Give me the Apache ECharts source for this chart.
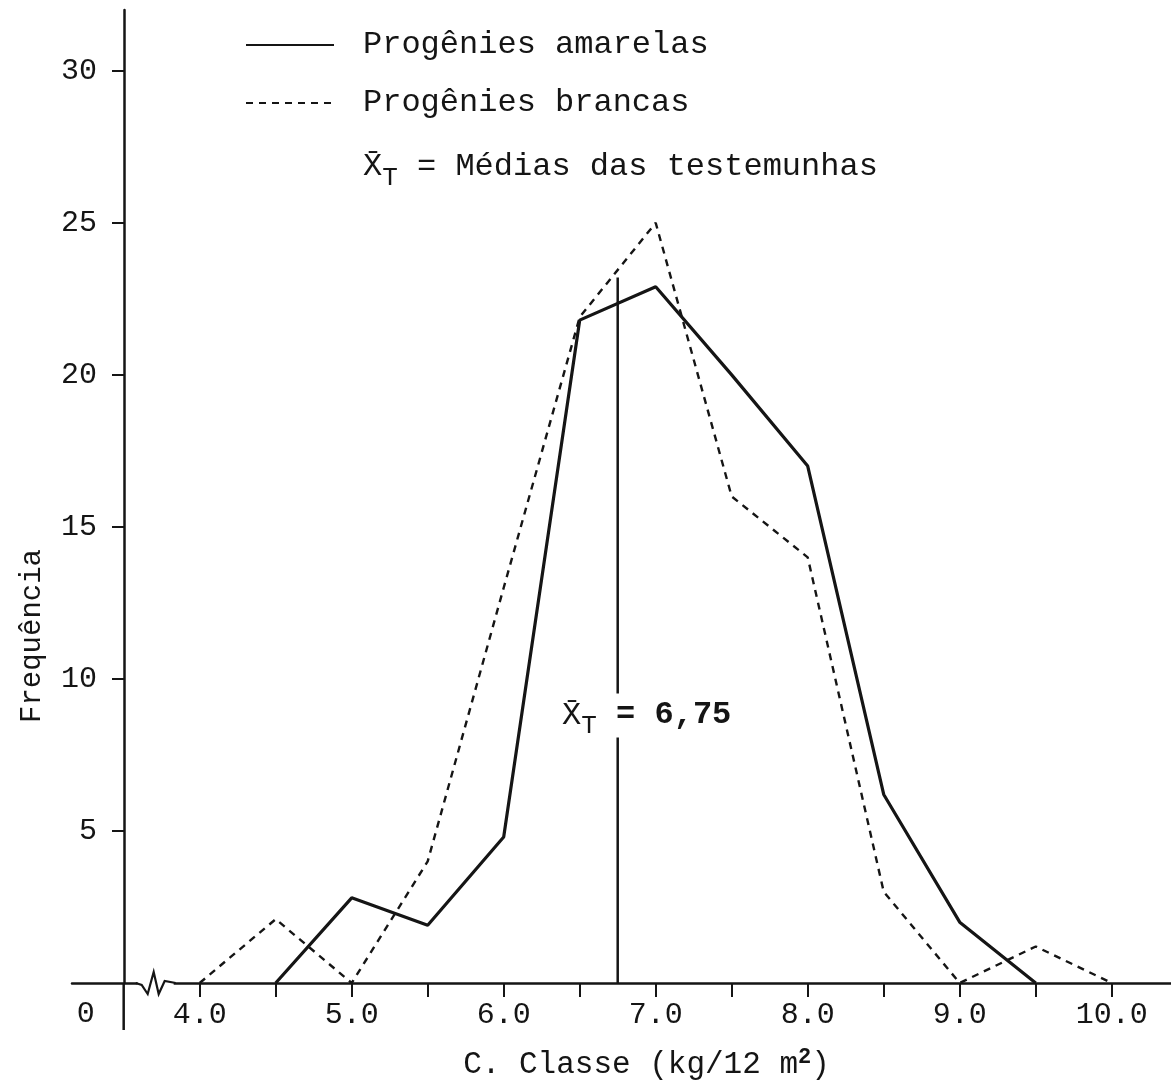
<!DOCTYPE html>
<html>
<head>
<meta charset="utf-8">
<title>Progênies - distribuição de frequência</title>
<script src="https://cdn.jsdelivr.net/npm/echarts@6/dist/echarts.min.js"></script>
<style>
    html, body { margin: 0; padding: 0; background: #fff; }
    #main { width: 1171px; height: 1091px; }
</style>
</head>
<body>
<div id="main"></div>
<script>
// centros de classe (kg/12 m2)
var classes = [4.0, 4.5, 5.0, 5.5, 6.0, 6.5, 7.0, 7.5, 8.0, 8.5, 9.0, 9.5, 10.0];
// frequências (null = sem ponto)
var amarelas = [null, 0, 2.8, 1.9, 4.8, 21.8, 22.9, 20.0, 17.0, 6.2, 2.0, 0, null];
var brancas = [0, 2.1, 0, 4.0, 13.0, 21.9, 25.0, 16.0, 14.0, 3.0, 0, 1.2, 0];

var xTickValues = [4.0, 4.5, 5.0, 5.5, 6.0, 6.5, 7.0, 7.5, 8.0, 8.5, 9.0, 9.5, 10.0];
var xLabelValues = [4, 5, 6, 7, 8, 9, 10];
var yLabelValues = [5, 10, 15, 20, 25, 30];

var mediaX = 6.75;        // média das testemunhas
var mediaTopo = 23.2;     // altura da linha vertical
var mediaLabelY = 8.8;    // altura do rótulo

var FONT = '"Liberation Mono", "DejaVu Sans Mono", monospace';
var INK = '#151515';

function pairs(xs, ys){
    var out = [];
    for(var i = 0; i < xs.length; i++){
        if(ys[i] !== null){
            out.push([xs[i], ys[i]]);
        }
    }
    return out;
}

var chart = echarts.init(document.getElementById('main'), null, {renderer: 'canvas'});

var option = {
    backgroundColor: '#fff',
    animation: false,
    grid: {
        left: 72,
        right: 0,
        top: 10,
        bottom: 108,
        containLabel: false,
        outerBoundsMode: 'none'
    },
    legend: {
        orient: 'vertical',
        left: 240,
        top: 22,
        itemWidth: 88,
        itemHeight: 14,
        itemGap: 22,
        selectedMode: false,
        itemStyle: {opacity: 0},
        data: [
            {name: 'amarelas'},
            {name: 'brancas'},
            {name: 'media', lineStyle: {opacity: 0}}
        ],
        formatter: function(name){
            if(name == 'amarelas') return 'Progênies amarelas';
            if(name == 'brancas') return 'Progênies brancas';
            return '{x|X\u0304}{t|T}{n| = Médias das testemunhas}';
        },
        textStyle: {
            fontFamily: FONT,
            fontSize: 32,
            color: INK,
            lineHeight: 36,
            padding: [0, 0, 0, 24],
            rich: {
                x: {fontFamily: FONT, fontSize: 32, color: INK, lineHeight: 36},
                t: {fontFamily: FONT, fontSize: 26, color: INK, lineHeight: 36, padding: [22, 0, 0, 0]},
                n: {fontFamily: FONT, fontSize: 32, color: INK, lineHeight: 36}
            }
        }
    },
    xAxis: {
        type: 'value',
        min: 3.16,
        max: 10.39,
        splitLine: {show: false},
        axisLine: {
            onZero: false,
            lineStyle: {color: INK, width: 2.5}
        },
        axisTick: {
            show: true,
            customValues: xTickValues,
            length: 14,
            lineStyle: {color: INK, width: 2}
        },
        axisLabel: {
            customValues: xLabelValues,
            margin: 17,
            fontFamily: FONT,
            fontSize: 30,
            color: INK,
            formatter: function(v){
                return v.toFixed(1);
            }
        },
        name: '{a|C. Classe (kg/12 m}{s|2}{a|)}',
        nameLocation: 'middle',
        nameGap: 64,
        nameTextStyle: {
            padding: [0, 0, 0, 50],
            rich: {
                a: {fontFamily: FONT, fontSize: 31, color: INK, lineHeight: 36},
                s: {fontFamily: FONT, fontSize: 22, color: INK, fontWeight: 'bold', lineHeight: 36, padding: [0, 0, 16, 0]}
            }
        }
    },
    yAxis: {
        type: 'value',
        min: 0,
        max: 32,
        offset: -52,
        splitLine: {show: false},
        axisLine: {
            show: true,
            onZero: false,
            lineStyle: {color: INK, width: 2.5}
        },
        axisTick: {
            show: true,
            customValues: yLabelValues,
            length: 12,
            lineStyle: {color: INK, width: 2}
        },
        axisLabel: {
            customValues: yLabelValues,
            margin: 27,
            fontFamily: FONT,
            fontSize: 30,
            color: INK
        }
    },
    series: [
        {
            name: 'amarelas',
            type: 'line',
            symbol: 'none',
            data: pairs(classes, amarelas),
            lineStyle: {color: INK, width: 3.2},
            itemStyle: {color: INK},
            z: 4
        },
        {
            name: 'brancas',
            type: 'line',
            symbol: 'none',
            data: pairs(classes, brancas),
            lineStyle: {color: INK, width: 2.4, type: [7, 6]},
            itemStyle: {color: INK},
            z: 3
        },
        {
            name: 'media',
            type: 'line',
            symbol: 'none',
            data: [[mediaX, 0], [mediaX, mediaTopo]],
            lineStyle: {color: INK, width: 2.5},
            itemStyle: {color: INK},
            z: 2,
            markPoint: {
                symbol: 'rect',
                symbolSize: 1,
                itemStyle: {color: 'rgba(0,0,0,0)'},
                z: 6,
                data: [{
                    coord: [mediaX, mediaLabelY],
                    label: {
                        show: true,
                        position: 'inside',
                        offset: [29, 0],
                        backgroundColor: '#fff',
                        padding: [4, 4, 4, 4],
                        formatter: '{x|X\u0304}{t|T}{n| = 6,75}',
                        rich: {
                            x: {fontFamily: FONT, fontSize: 32, color: INK, lineHeight: 36},
                            t: {fontFamily: FONT, fontSize: 26, color: INK, lineHeight: 36, padding: [22, 0, 0, 0]},
                            n: {fontFamily: FONT, fontSize: 32, color: INK, fontWeight: 'bold', lineHeight: 36}
                        }
                    }
                }]
            }
        }
    ]
};

chart.setOption(option);

// marcação de quebra do eixo, prolongamento do eixo Y, rótulo da origem e nome do eixo Y
var origem = chart.convertToPixel({gridIndex: 0}, [3.5, 0]);
var ox = origem[0], oy = origem[1];

chart.setOption({
    graphic: [
        {
            type: 'line',
            shape: {x1: ox, y1: oy, x2: ox, y2: oy + 47},
            style: {stroke: INK, lineWidth: 2.5},
            z: 10
        },
        {
            type: 'rect',
            shape: {x: ox + 14, y: oy - 3, width: 36, height: 6},
            style: {fill: '#fff'},
            z: 10
        },
        {
            type: 'polyline',
            shape: {
                points: [[ox + 12, oy], [ox + 18, oy + 2], [ox + 24, oy + 11], [ox + 30, oy - 11],
                         [ox + 35, oy + 11], [ox + 41, oy - 2], [ox + 52, oy]]
            },
            style: {stroke: INK, lineWidth: 2.2, fill: null},
            z: 11
        },
        {
            type: 'text',
            x: ox - 38,
            y: oy + 31,
            style: {
                text: '0',
                fontFamily: FONT,
                fontSize: 30,
                fill: INK,
                align: 'center',
                verticalAlign: 'middle'
            },
            z: 11
        },
        {
            type: 'text',
            x: 32,
            y: 636,
            rotation: Math.PI / 2,
            style: {
                text: 'Frequência',
                fontFamily: FONT,
                fontSize: 29,
                fill: INK,
                align: 'center',
                verticalAlign: 'middle'
            },
            z: 11
        }
    ]
});
</script>
</body>
</html>
